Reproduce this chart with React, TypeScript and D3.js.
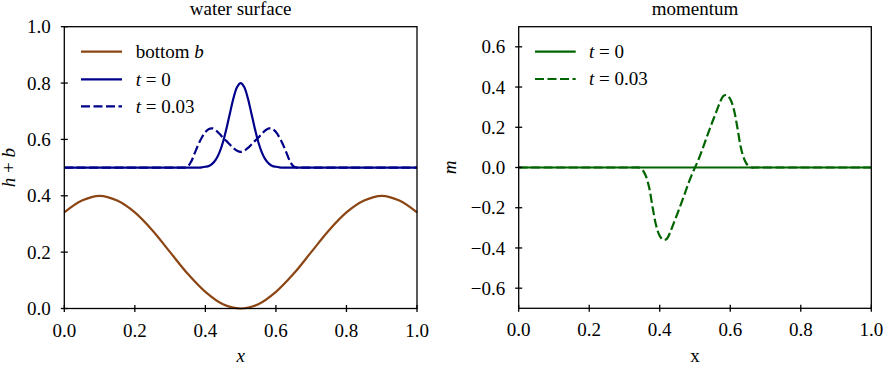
import React from 'react';
import * as d3 from 'd3';

// bottom topography b(x)
const bottomX = [0, 0.05, 0.1, 0.15, 0.2, 0.25, 0.3, 0.35, 0.4, 0.45, 0.5, 0.55, 0.6, 0.65, 0.7, 0.75, 0.8, 0.85, 0.9, 0.95, 1.0];
const bottomB = [0.341, 0.383, 0.4, 0.383, 0.341, 0.277, 0.2, 0.123, 0.059, 0.015, 0.0, 0.015, 0.059, 0.123, 0.2, 0.277, 0.341, 0.383, 0.4, 0.383, 0.341];

// water surface h+b at t = 0
const surfX0 = [0, 0.2, 0.37, 0.38, 0.39, 0.4, 0.41, 0.42, 0.43, 0.44, 0.45, 0.46, 0.47, 0.48, 0.49, 0.5,
  0.51, 0.52, 0.53, 0.54, 0.55, 0.56, 0.57, 0.58, 0.59, 0.6, 0.61, 0.62, 0.63, 0.8, 1.0];
const surfH0 = [0.5, 0.5, 0.5, 0.5, 0.501, 0.503, 0.506, 0.514, 0.529, 0.554, 0.591, 0.64, 0.695, 0.748, 0.786, 0.8,
  0.786, 0.748, 0.695, 0.64, 0.591, 0.554, 0.529, 0.514, 0.506, 0.503, 0.501, 0.5, 0.5, 0.5, 0.5];

// sample points for t = 0.03 (surface and momentum)
const xs3 = [0, 0.2, 0.33, 0.34, 0.35, 0.36, 0.37, 0.38, 0.39, 0.4, 0.41, 0.42, 0.43, 0.44, 0.45, 0.46, 0.47, 0.48, 0.49, 0.5,
  0.51, 0.52, 0.53, 0.54, 0.55, 0.56, 0.57, 0.58, 0.59, 0.6, 0.61, 0.62, 0.63, 0.64, 0.65, 0.66, 0.67, 0.8, 1.0];
const surfH3 = [0.5, 0.5, 0.5, 0.5, 0.504, 0.522, 0.552, 0.582, 0.607, 0.626, 0.637, 0.639, 0.632, 0.62, 0.606, 0.594, 0.581, 0.569, 0.56, 0.556,
  0.56, 0.569, 0.581, 0.594, 0.606, 0.62, 0.632, 0.639, 0.637, 0.626, 0.607, 0.582, 0.552, 0.522, 0.504, 0.5, 0.5, 0.5, 0.5];
const mom3 = [0, 0, 0, 0, -0.01, -0.04, -0.1, -0.2, -0.29, -0.34, -0.36, -0.355, -0.32, -0.275, -0.23, -0.183, -0.135, -0.085, -0.04, 0,
  0.04, 0.085, 0.135, 0.183, 0.23, 0.275, 0.32, 0.355, 0.36, 0.34, 0.29, 0.2, 0.1, 0.04, 0.01, 0, 0, 0, 0];

// momentum at t = 0
const momX0 = [0, 1];
const mom0 = [0, 0];

const xTicks = [0, 0.2, 0.4, 0.6, 0.8, 1.0];
const leftYTicks = [0, 0.2, 0.4, 0.6, 0.8, 1.0];
const rightYTicks = [-0.6, -0.4, -0.2, 0, 0.2, 0.4, 0.6];

const BROWN = '#8b4513';
const BLUE = '#00008b';
const GREEN = '#006400';
const FS = 19;
const txt: React.CSSProperties = { fontFamily: "'Liberation Serif', 'Times New Roman', serif", fontSize: FS };
const ital: React.CSSProperties = { ...txt, fontStyle: 'italic' };
const it = { fontStyle: 'italic' };

type Pt = [number, number];
const zip = (a: number[], b: number[]): Pt[] => a.map((v, i) => [v, b[i]]);

function Panel({ left, right, top, bottom, yDomain, yTicks, children }: any) {
  const x = d3.scaleLinear().domain([0, 1]).range([left, right]);
  const y = d3.scaleLinear().domain(yDomain).range([bottom, top]);
  const fmt = d3.format('.1f');
  return (
    <g>
      {children(x, y)}
      <rect x={left} y={top} width={right - left} height={bottom - top} fill="none" stroke="black" strokeWidth={1.3} />
      {xTicks.map((t) => (
        <g key={'x' + t}>
          <line x1={x(t)} x2={x(t)} y1={bottom - 3.5} y2={bottom + 3.5} stroke="black" strokeWidth={1.3} />
          <text x={x(t)} y={bottom + 28} textAnchor="middle" style={txt}>{fmt(t)}</text>
        </g>
      ))}
      {yTicks.map((t: number) => (
        <g key={'y' + t}>
          <line x1={left - 3.5} x2={left + 3.5} y1={y(t)} y2={y(t)} stroke="black" strokeWidth={1.3} />
          <text x={left - 13.5} y={y(t)} dy="0.35em" textAnchor="end" style={txt}>{fmt(t)}</text>
        </g>
      ))}
    </g>
  );
}

export default function App() {
  const line = d3.line<Pt>().curve(d3.curveCatmullRom);
  const dash = '9 3.5';
  const lw = 2.2;

  const L = { left: 64.3, right: 417, top: 26.7, bottom: 308.5 };
  const R = { left: 518.7, right: 871.3, top: 26.7, bottom: 308.3 };

  return (
    <svg width={883} height={367} style={{ position: 'absolute', left: 0, top: 0, background: 'white' }}>
      {/* left panel: water surface */}
      <Panel {...L} yDomain={[0, 1]} yTicks={leftYTicks}>
        {(x: any, y: any) => {
          const l = line.x((d) => x(d[0])).y((d) => y(d[1]));
          return (
            <g fill="none" strokeWidth={lw}>
              <path d={l(zip(bottomX, bottomB)) || ''} stroke={BROWN} />
              <path d={l(zip(surfX0, surfH0)) || ''} stroke={BLUE} />
              <path d={l(zip(xs3, surfH3)) || ''} stroke={BLUE} strokeDasharray={dash} />
            </g>
          );
        }}
      </Panel>
      <text x={(L.left + L.right) / 2} y={14.5} textAnchor="middle" style={txt}>water surface</text>
      <text x={(L.left + L.right) / 2} y={362} textAnchor="middle" style={ital}>x</text>
      <text transform={`translate(15,${(L.top + L.bottom) / 2}) rotate(-90)`} textAnchor="middle" style={txt}>
        <tspan style={it}>h</tspan> + <tspan style={it}>b</tspan>
      </text>
      <g>
        <line x1={81} x2={122} y1={51.7} y2={51.7} stroke={BROWN} strokeWidth={lw} />
        <text x={135.7} y={51.7} dy="0.33em" style={txt}>bottom <tspan style={it}>b</tspan></text>
        <line x1={81} x2={122} y1={79.3} y2={79.3} stroke={BLUE} strokeWidth={lw} />
        <text x={135.7} y={79.3} dy="0.33em" style={txt}><tspan style={it}>t</tspan> = 0</text>
        <line x1={81} x2={122} y1={106.3} y2={106.3} stroke={BLUE} strokeWidth={lw} strokeDasharray={dash} />
        <text x={135.7} y={106.3} dy="0.33em" style={txt}><tspan style={it}>t</tspan> = 0.03</text>
      </g>

      {/* right panel: momentum */}
      <Panel {...R} yDomain={[-0.7, 0.7]} yTicks={rightYTicks}>
        {(x: any, y: any) => {
          const l = line.x((d) => x(d[0])).y((d) => y(d[1]));
          return (
            <g fill="none" strokeWidth={lw}>
              <path d={l(zip(momX0, mom0)) || ''} stroke={GREEN} />
              <path d={l(zip(xs3, mom3)) || ''} stroke={GREEN} strokeDasharray={dash} />
            </g>
          );
        }}
      </Panel>
      <text x={(R.left + R.right) / 2} y={14.5} textAnchor="middle" style={txt}>momentum</text>
      <text x={(R.left + R.right) / 2} y={362} textAnchor="middle" style={txt}>x</text>
      <text transform={`translate(456,${(R.top + R.bottom) / 2}) rotate(-90)`} textAnchor="middle" style={ital}>m</text>
      <g>
        <line x1={535} x2={575.7} y1={51.7} y2={51.7} stroke={GREEN} strokeWidth={lw} />
        <text x={589} y={51.7} dy="0.33em" style={txt}><tspan style={it}>t</tspan> = 0</text>
        <line x1={535} x2={575.7} y1={79} y2={79} stroke={GREEN} strokeWidth={lw} strokeDasharray={dash} />
        <text x={589} y={79} dy="0.33em" style={txt}><tspan style={it}>t</tspan> = 0.03</text>
      </g>
    </svg>
  );
}
